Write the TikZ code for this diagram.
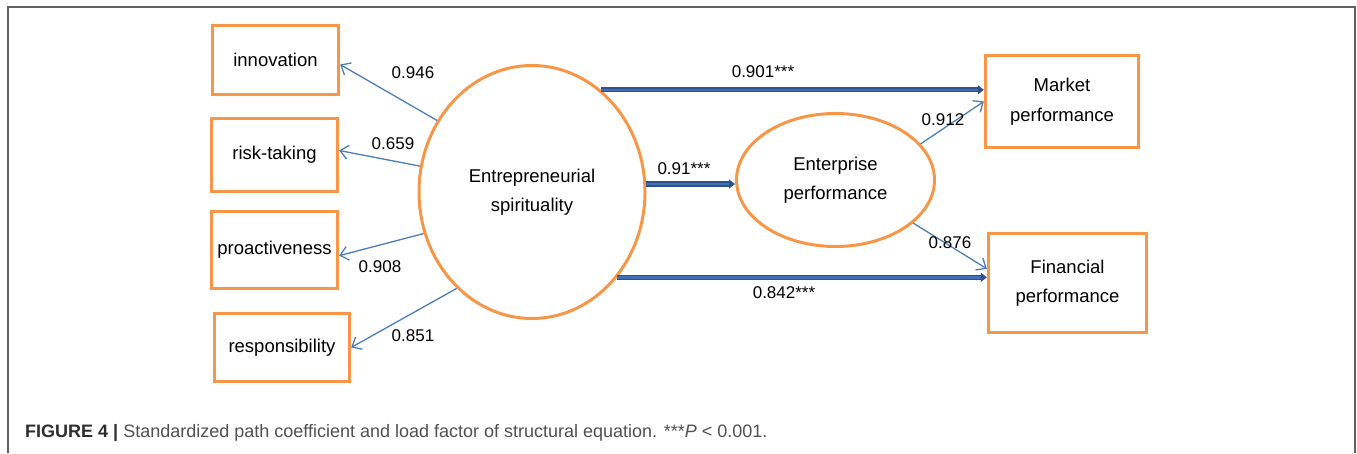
\documentclass[tikz,border=0pt]{standalone}
\usepackage{fontspec}
\setmainfont{Liberation Sans}
\usetikzlibrary{arrows,shapes,positioning,arrows.meta}
\definecolor{tangerine}{RGB}{247, 150, 70}
\definecolor{steel}{RGB}{74, 126, 187}
\definecolor{navy}{RGB}{46, 80, 140}
\definecolor{royal}{RGB}{66, 110, 180}
\definecolor{slate}{RGB}{95, 95, 95}
\definecolor{inkgray}{RGB}{80, 80, 80}
\definecolor{inkdark}{RGB}{45, 45, 45}
\tikzset{factorbox/.style={draw=tangerine,line width=3.3pt,rectangle,inner sep=0pt,align=center,font=\fontsize{18.5}{29.5}\selectfont}}
\tikzset{latent/.style={draw=tangerine,line width=3pt,ellipse,inner sep=0pt,align=center,font=\fontsize{18.5}{29.5}\selectfont}}
\tikzset{loadarrow/.style={-{Straight Barb[length=8pt,width=14pt]},steel,line width=1.3pt}}
\tikzset{patharrow/.style={-{Triangle[length=6pt,width=9pt,fill=navy]},line width=1.4pt,navy,double=royal,double distance=2.4pt}}
\tikzset{coef/.style={inner sep=0pt,font=\fontsize{17}{20}\selectfont}}

\begin{document}
\begin{tikzpicture}[x=1pt,y=-1pt]

	\useasboundingbox (0,0) rectangle (1357,453);
	\draw[slate,line width=1.3pt] (8,453) -- (8,7) -- (1355,7) -- (1355,453);

	\node[factorbox,minimum width=126pt,minimum height=69pt] (inno) at (275.5,60) {innovation};
	\node[factorbox,minimum width=126pt,minimum height=73pt] (risk) at (274.5,155) {risk-taking};
	\node[factorbox,minimum width=126pt,minimum height=77pt] (proact) at (274.5,250) {proactiveness};
	\node[factorbox,minimum width=135pt,minimum height=68pt] (resp) at (282,347.5) {responsibility};
	\node[latent,minimum width=226pt,minimum height=253pt] (spirit) at (532,192) {Entrepreneurial\\spirituality};
	\node[latent,minimum width=198pt,minimum height=133pt] (enter) at (835.5,180) {Enterprise\\performance};
	\node[factorbox,minimum width=153pt,minimum height=92pt] (market) at (1062,101.5) {Market\\performance};
	\node[factorbox,minimum width=158pt,minimum height=99pt] (finance) at (1067.5,283) {Financial\\performance};

	\draw[loadarrow] (spirit.143) -- (inno.-4.5);
	\draw[loadarrow] (spirit.167) -- (risk.4.5);
	\draw[loadarrow] (spirit.201) -- (proact.-5.4);
	\draw[loadarrow] (spirit.232) -- (resp.east);
	\draw[loadarrow] (enter.23) -- (market.west);
	\draw[loadarrow] (enter.-29) -- (finance.170);
	\draw[patharrow] (spirit.56) -- (spirit.56 -| market.west);
	\draw[patharrow] (spirit.4) -- (spirit.4 -| enter.west);
	\draw[patharrow] (spirit.-45.4) -- (spirit.-45.4 -| finance.west);

	\node[coef] (l946) at (413,73) {0.946};
	\node[coef] (l659) at (393,144) {0.659};
	\node[coef] (l908) at (380,267) {0.908};
	\node[coef] (l851) at (413,336) {0.851};
	\node[coef] (l901) at (763,72) {0.901***};
	\node[coef] (l91) at (684,169) {0.91***};
	\node[coef] (l842) at (784,293) {0.842***};
	\node[coef] (l912) at (943,120) {0.912};
	\node[coef] (l876) at (950,243) {0.876};

	\node[anchor=base west,inner sep=0pt,text=inkgray,font=\fontsize{18}{22}\selectfont] (caption) at (25,437) {\textcolor{inkdark}{\textbf{FIGURE 4 |}} Standardized path coefficient and load factor of structural equation. ***\textit{P} < 0.001.};
\end{tikzpicture}
\end{document}
